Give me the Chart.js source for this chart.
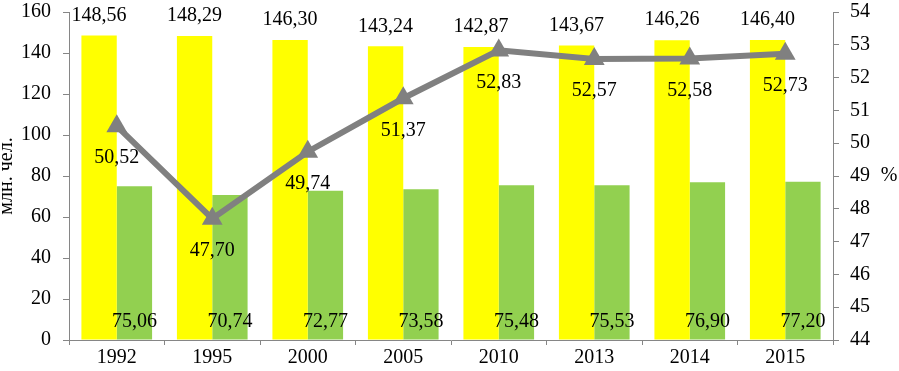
<!DOCTYPE html>
<html>
<head>
<meta charset="utf-8">
<script src="https://cdn.jsdelivr.net/npm/chart.js@4/dist/chart.umd.min.js"></script>
<style>
html,body{margin:0;padding:0;background:#fff;}
#wrap{width:899px;height:371px;position:relative;}
</style>
</head>
<body>
<div id="wrap"><canvas id="c"></canvas></div>
<script>
const years = ['1992','1995','2000','2005','2010','2013','2014','2015'];
const population = [148.56, 148.29, 146.30, 143.24, 142.87, 143.67, 146.26, 146.40];
const activePopulation = [75.06, 70.74, 72.77, 73.58, 75.48, 75.53, 76.90, 77.20];
const activeShare = [50.52, 47.70, 49.74, 51.37, 52.83, 52.57, 52.58, 52.73];
const leftTitle = 'млн. чел.';
const rightTitle = '%';

const fmt = v => v.toFixed(2).replace('.', ',');
const FONT = '"Liberation Serif", "Times New Roman", serif';

const labelPlugin = {
  id: 'valueLabels',
  afterDatasetsDraw(chart) {
    const ctx = chart.ctx;
    ctx.save();
    ctx.font = '20px ' + FONT;
    ctx.fillStyle = '#000';
    ctx.textAlign = 'center';
    ctx.textBaseline = 'middle';
    chart.data.datasets.forEach((ds, di) => {
      const meta = chart.getDatasetMeta(di);
      meta.data.forEach((el, i) => {
        let y;
        if (ds.labelPos === 'top') y = el.y - 20;
        else if (ds.labelPos === 'base') y = el.base - 18;
        else y = el.y + 32;
        ctx.fillText(fmt(ds.data[i]), el.x, y);
      });
    });
    ctx.fillText(rightTitle, 889, (chart.chartArea.top + chart.chartArea.bottom) / 2);
    ctx.restore();
  }
};

Chart.defaults.font.family = FONT;
Chart.defaults.font.size = 20;
Chart.defaults.color = '#000';

function fitV(w) {
  return s => { s.width = w; s.paddingTop = 8; s.paddingBottom = 0; };
}

new Chart(document.getElementById('c'), {
  type: 'bar',
  data: {
    labels: years,
    datasets: [
      {
        type: 'line',
        data: activeShare,
        yAxisID: 'y1',
        borderColor: '#808080',
        backgroundColor: '#808080',
        borderWidth: 6,
        pointStyle: 'triangle',
        pointRadius: 12,
        pointBorderWidth: 0,
        pointBackgroundColor: '#808080',
        order: 0,
        labelPos: 'below'
      },
      {
        data: population,
        yAxisID: 'y',
        backgroundColor: '#FFFF00',
        barPercentage: 1,
        categoryPercentage: 0.74,
        order: 1,
        labelPos: 'top'
      },
      {
        data: activePopulation,
        yAxisID: 'y',
        backgroundColor: '#92D050',
        barPercentage: 1,
        categoryPercentage: 0.74,
        order: 2,
        labelPos: 'base'
      }
    ]
  },
  options: {
    responsive: true,
    maintainAspectRatio: false,
    animation: false,
    layout: { padding: 0 },
    plugins: { legend: { display: false }, tooltip: { enabled: false } },
    scales: {
      x: {
        offset: true,
        grid: { offset: true, drawOnChartArea: false, color: '#868686', tickLength: 5 },
        border: { color: '#868686', width: 1 },
        ticks: { padding: 1, maxRotation: 0 },
        afterFit: s => { s.height = 31; s.paddingLeft = 0; s.paddingRight = 0; }
      },
      y: {
        position: 'left',
        min: 0, max: 160,
        ticks: { stepSize: 20, padding: 12 },
        grid: { drawOnChartArea: false, color: '#868686', tickLength: 6 },
        border: { color: '#868686', width: 1 },
        title: { display: true, text: leftTitle, padding: { top: -5, bottom: 0 }, font: { size: 20 } },
        afterFit: fitV(69)
      },
      y1: {
        position: 'right',
        min: 44, max: 54,
        ticks: { stepSize: 1, padding: 11 },
        grid: { drawOnChartArea: false, color: '#868686', tickLength: 6 },
        border: { color: '#868686', width: 1 },
        afterFit: fitV(66)
      }
    }
  },
  plugins: [labelPlugin]
});
</script>
</body>
</html>
